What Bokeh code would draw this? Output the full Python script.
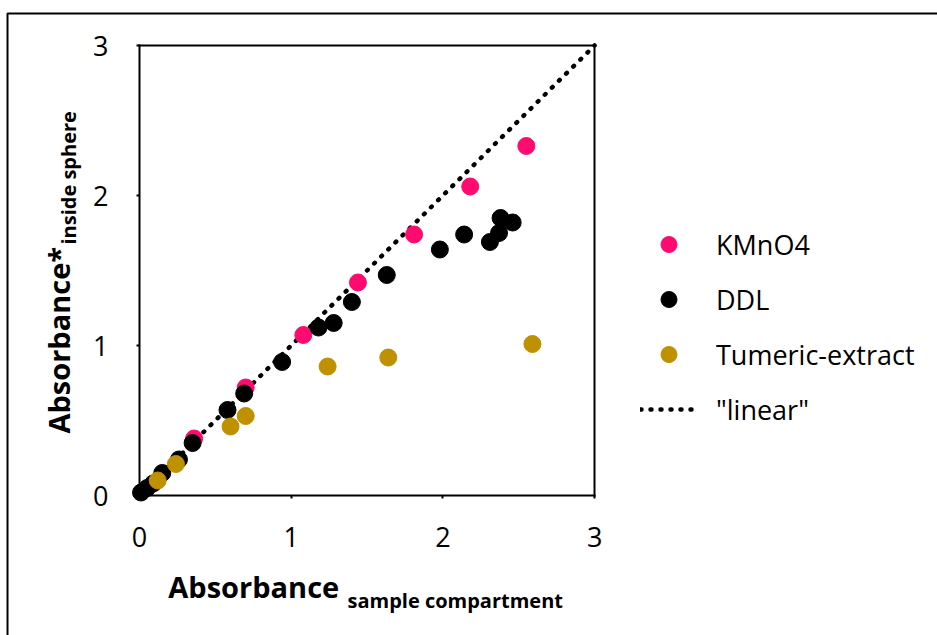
import math
from bokeh.plotting import figure
from bokeh.models import (Range1d, FixedTicker, Legend, LegendItem, Label,
                          BoxAnnotation, LinearAxis)
from bokeh.embed import file_html
from bokeh.resources import INLINE

# ---- data ----
kmno4_x = [0.36, 0.70, 1.08, 1.44, 1.81, 2.18, 2.55]
kmno4_y = [0.38, 0.72, 1.07, 1.42, 1.74, 2.06, 2.33]

ddl_x = [0.01, 0.05, 0.09, 0.15, 0.26, 0.35, 0.58, 0.69, 0.94, 1.18, 1.28,
         1.40, 1.63, 1.98, 2.14, 2.31, 2.37, 2.38, 2.46]
ddl_y = [0.02, 0.05, 0.08, 0.15, 0.24, 0.35, 0.57, 0.68, 0.89, 1.12, 1.15,
         1.29, 1.47, 1.64, 1.74, 1.69, 1.75, 1.85, 1.82]

tumeric_x = [0.12, 0.24, 0.60, 0.70, 1.24, 1.64, 2.59]
tumeric_y = [0.10, 0.21, 0.46, 0.53, 0.86, 0.92, 1.01]

linear_x = [0, 3]
linear_y = [0, 3]

ticks = [0, 1, 2, 3]
axis_min, axis_max = 0, 3

FONT = "Open Sans"

# frame covers the whole canvas; the plotted box spans 0..3 inside it
p = figure(width=937, height=635, output_backend="svg", toolbar_location=None,
           x_range=Range1d(-0.9163, 5.2604), y_range=Range1d(-0.9333, 3.3),
           min_border=0, x_axis_location=None, y_axis_location=None)
p.background_fill_color = "white"
p.border_fill_color = "white"
p.outline_line_color = None
p.grid.visible = False


def make_axis(labels):
    ax = LinearAxis(fixed_location=axis_min, bounds=(axis_min, axis_max),
                    ticker=FixedTicker(ticks=ticks))
    ax.axis_line_width = 2
    ax.axis_line_color = "black"
    ax.axis_line_cap = "square"
    ax.minor_tick_line_color = None
    if labels:
        ax.major_tick_in = 0
        ax.major_tick_out = 3
        ax.major_tick_line_width = 2
        ax.major_label_text_font = FONT
        ax.major_label_text_font_size = "27px"
        ax.major_label_text_color = "black"
        ax.major_label_standoff = 28
    else:
        ax.major_tick_line_color = None
        ax.major_label_text_alpha = 0
    return ax


xb = make_axis(True)
yl = make_axis(True)
xt = make_axis(False)
xt.fixed_location = axis_max
yr = make_axis(False)
yr.fixed_location = axis_max
p.add_layout(xb, "below")
p.add_layout(yl, "left")
p.add_layout(xt, "above")
p.add_layout(yr, "right")

lin = p.line(linear_x, linear_y, line_color="black", line_width=4.5,
             line_dash="1 9", line_cap="round")
r1 = p.scatter(kmno4_x, kmno4_y, size=17, marker="circle",
               fill_color="#FF0A6E", line_color="#FF0A6E")
r2 = p.scatter(ddl_x, ddl_y, size=17, marker="circle",
               fill_color="black", line_color="black")
r3 = p.scatter(tumeric_x, tumeric_y, size=17, marker="circle",
               fill_color="#BF9000", line_color="#BF9000")

legend = Legend(items=[LegendItem(label="KMnO4", renderers=[r1]),
                       LegendItem(label="DDL", renderers=[r2]),
                       LegendItem(label="Tumeric-extract", renderers=[r3]),
                       LegendItem(label='"linear"', renderers=[lin])],
                location=(640, 206), padding=0, margin=0,
                border_line_alpha=0, background_fill_alpha=0,
                glyph_width=57, glyph_height=40, label_standoff=19,
                label_height=20, spacing=15,
                label_text_font=FONT, label_text_font_size="27px",
                label_text_color="black")
p.add_layout(legend)

# axis titles with subscripts
p.add_layout(Label(x=0.19, y=-0.607, text="Absorbance", text_font=FONT,
                   text_font_size="29px", text_font_style="bold", text_color="black",
                   text_baseline="alphabetic", text_align="left"))
p.add_layout(Label(x=1.371, y=-0.70, text="sample compartment", text_font=FONT,
                   text_font_size="20px", text_font_style="bold", text_color="black",
                   text_baseline="alphabetic", text_align="left"))
p.add_layout(Label(x=-0.534, y=0.413, text="Absorbance*", text_font=FONT,
                   text_font_size="29px", text_font_style="bold", text_color="black",
                   angle=math.pi / 2,
                   text_baseline="alphabetic", text_align="left"))
p.add_layout(Label(x=-0.468, y=1.673, text="inside sphere", text_font=FONT,
                   text_font_size="20px", text_font_style="bold", text_color="black",
                   angle=math.pi / 2,
                   text_baseline="alphabetic", text_align="left"))

# outer frame of the chart area (right/bottom edges lie outside the window)
p.add_layout(BoxAnnotation(left=7, top=13, right=3000, bottom=3000,
                           left_units="canvas", right_units="canvas",
                           top_units="canvas", bottom_units="canvas",
                           fill_alpha=0, line_color="black", line_width=2,
                           line_alpha=1))

open("out.html", "w").write(file_html(p, INLINE))
